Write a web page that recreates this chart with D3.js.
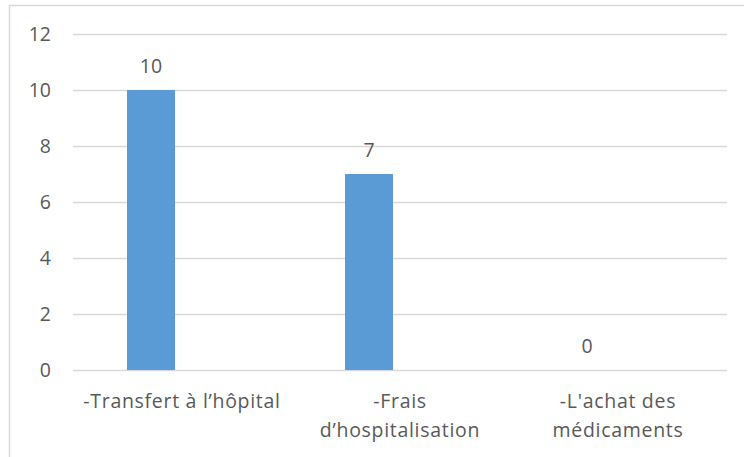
<!DOCTYPE html>
<html><head><meta charset="utf-8">
<script src="https://cdn.jsdelivr.net/npm/d3@7"></script>
<style>body{margin:0;background:#fff}svg{display:block}text{font-family:"Open Sans",sans-serif;fill:#595959}</style>
</head><body><svg id="c" width="744" height="457"></svg>
<script>
const categories = [["-Transfert à l’hôpital"], ["-Frais", "d’hospitalisation"], ["-L'achat des", "médicaments"]];
const values = [10, 7, 0];
const yTicks = [0, 2, 4, 6, 8, 10, 12];

const svg = d3.select("#c");
const FS = 19.5;
// outer chart border (partly cropped)
svg.append("rect").attr("x", 9.5).attr("y", 5.5).attr("width", 760).attr("height", 470)
  .attr("fill", "none").attr("stroke", "#d9d9d9").attr("stroke-width", 1.5);

const x = d3.scaleBand().domain(d3.range(categories.length)).range([73, 727]);
const y = d3.scaleLinear().domain([0, 12]).range([370, 34]);

// gridlines
svg.append("g").selectAll("line").data(yTicks).join("line")
  .attr("x1", 73).attr("x2", 727)
  .attr("y1", d => Math.round(y(d)) + 0.5).attr("y2", d => Math.round(y(d)) + 0.5)
  .attr("stroke", "#d9d9d9").attr("stroke-width", 1.3);

// y axis tick labels
const yAxis = d3.axisLeft(y).tickValues(yTicks).tickSize(0).tickPadding(0);
const ga = svg.append("g").attr("transform", "translate(51,0)").call(yAxis);
ga.select(".domain").remove();
ga.selectAll("text").attr("font-size", FS).attr("font-family", "Open Sans").attr("fill", "#595959");

const barW = 48, offset = -31;
const cx = i => x(i) + x.bandwidth() / 2 + offset;

svg.append("g").selectAll("rect").data(values).join("rect")
  .attr("x", (d, i) => cx(i) - barW / 2)
  .attr("y", d => y(d))
  .attr("width", barW)
  .attr("height", d => y(0) - y(d))
  .attr("fill", "#5b9bd5");

// value labels
svg.append("g").selectAll("text").data(values).join("text")
  .attr("x", (d, i) => cx(i))
  .attr("y", d => y(d) - 17)
  .attr("text-anchor", "middle")
  .attr("font-size", FS)
  .text(d => d);

// category labels
const cg = svg.append("g");
categories.forEach((lines, i) => {
  const t = cg.append("text").attr("text-anchor", "middle").attr("font-size", FS)
    .attr("letter-spacing", 0.7);
  lines.forEach((ln, j) => {
    t.append("tspan").attr("x", x(i) + x.bandwidth() / 2).attr("y", 408 + j * 29).text(ln);
  });
});
</script></body></html>
